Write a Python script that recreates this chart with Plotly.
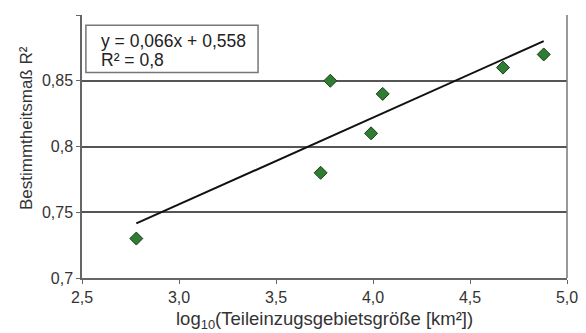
import plotly.graph_objects as go
import numpy as np

# data
log_area = [2.78, 3.73, 3.78, 3.99, 4.05, 4.67, 4.88]
r2_values = [0.73, 0.78, 0.85, 0.81, 0.84, 0.86, 0.87]
slope = 0.066
intercept = 0.558
r2_fit = 0.8
x_ticks = [2.5, 3.0, 3.5, 4.0, 4.5, 5.0]
x_tick_labels = ["2,5", "3,0", "3,5", "4,0", "4,5", "5,0"]
y_ticks = [0.7, 0.75, 0.8, 0.85, 0.9]
y_tick_labels = ["0,7", "0,75", "0,8", "0,85", "0,9"]

FONT = "Liberation Sans, Arial, sans-serif"
fit_x = np.array([min(log_area), max(log_area)])
fit_y = slope * fit_x + intercept

fig = go.Figure()
fig.add_trace(go.Scatter(
    x=fit_x, y=fit_y, mode="lines",
    line=dict(color="#111111", width=2), showlegend=False, hoverinfo="skip"))
fig.add_trace(go.Scatter(
    x=log_area, y=r2_values, mode="markers",
    marker=dict(symbol="diamond", size=10, color="#2f7d32",
                line=dict(color="#1b3d1b", width=1)),
    showlegend=False))

fig.update_layout(
    width=578, height=325,
    margin=dict(l=74, r=19, t=7, b=55),
    paper_bgcolor="white", plot_bgcolor="white",
    font=dict(family=FONT, size=16, color="#333333"),
    xaxis=dict(range=[2.5, 5.0], tickvals=x_ticks, ticktext=x_tick_labels,
               showgrid=False, zeroline=False, showline=True,
               linecolor="#666666", linewidth=1.5, ticks="outside",
               ticklen=4, tickcolor="#666666", mirror=False),
    yaxis=dict(range=[0.7, 0.9], tickvals=y_ticks, ticktext=y_tick_labels,
               showgrid=True, gridcolor="#555555", gridwidth=1.5,
               zeroline=False, showline=True, linecolor="#666666",
               linewidth=1.5, ticks="outside", ticklen=4, tickcolor="#666666"),
    shapes=[
        dict(type="line", xref="paper", yref="paper", x0=1, x1=1, y0=0, y1=1,
             line=dict(color="#777777", width=1.5)),
        dict(type="rect", xref="paper", yref="paper", x0=0.008, x1=0.363,
             y0=0.781, y1=0.961, line=dict(color="#777777", width=1.5),
             fillcolor="white", layer="above"),
    ],
    annotations=[
        dict(xref="paper", yref="paper", x=0.035, y=0.903, xanchor="left",
             yanchor="middle", showarrow=False,
             text=f"y = {slope:.3f}x + {intercept:.3f}".replace(".", ","),
             font=dict(size=17.5, color="#222222")),
        dict(xref="paper", yref="paper", x=0.035, y=0.829, xanchor="left",
             yanchor="middle", showarrow=False,
             text=f"R² = {r2_fit}".replace(".", ","),
             font=dict(size=17.5, color="#222222")),
        dict(xref="paper", yref="paper", x=-0.113, y=0.571, xanchor="center",
             yanchor="middle", showarrow=False, textangle=-90,
             text="Bestimmtheitsmaß R²", font=dict(size=17, color="#333333")),
        dict(xref="paper", yref="paper", x=0.5, y=-0.16, xanchor="center",
             yanchor="middle", showarrow=False,
             text="log<sub>10</sub>(Teileinzugsgebietsgröße [km²])",
             font=dict(size=18.5, color="#333333")),
    ],
)

fig.write_html("out.html")
